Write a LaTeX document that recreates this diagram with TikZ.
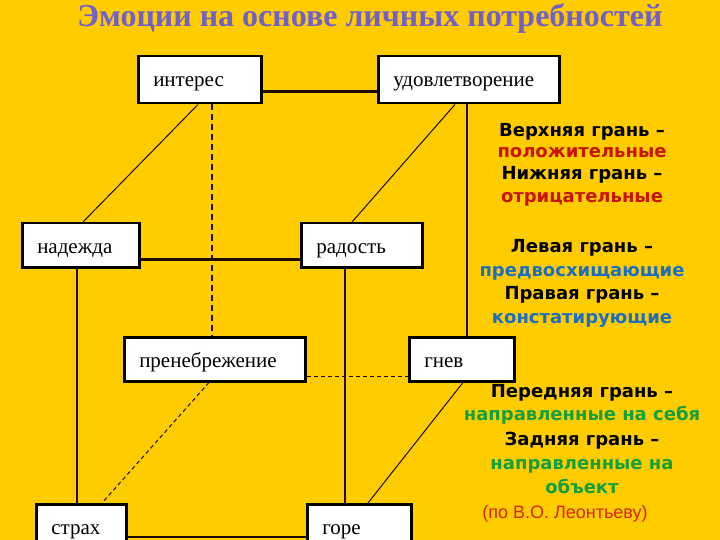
\documentclass[tikz,border=0pt]{standalone}
\usepackage{fontspec}
\setmainfont{Liberation Serif}
\newfontfamily\boldsans{DejaVu Sans}
\newfontfamily\plainsans{Liberation Sans}

\definecolor{bg}{RGB}{255,204,0}
\definecolor{titlecol}{RGB}{112,96,200}
\definecolor{posred}{RGB}{200,20,0}
\definecolor{antblue}{RGB}{30,110,190}
\definecolor{dirgreen}{RGB}{20,160,60}
\definecolor{refred}{RGB}{210,40,0}
\definecolor{edgecol}{RGB}{30,10,0}

\begin{document}
\begin{tikzpicture}[x=1pt,y=-1pt,
  emobox/.style={draw=black, line width=2.5pt, fill=white, anchor=north west,
    inner xsep=15pt, inner ysep=0pt, align=left, text height=30pt,
    font=\fontsize{21}{21}\selectfont},
  solidedge/.style={draw=edgecol, line width=2.5pt},
  thinedge/.style={draw=edgecol, line width=1pt},
  thickdash/.style={draw=edgecol, line width=2.5pt, dash pattern=on 6pt off 4pt},
  thindash/.style={draw=edgecol, line width=1pt, dash pattern=on 4pt off 3pt},
  facehead/.style={anchor=base, font=\boldsans\bfseries\fontsize{18}{18}\selectfont},
  facetext/.style={anchor=base, font=\boldsans\bfseries\fontsize{18}{18}\selectfont}
]
\useasboundingbox (0,0) rectangle (720,540);
\clip (0,0) rectangle (720,540);
\fill[bg] (0,0) rectangle (720,540);

% title
\node[anchor=base, text=titlecol, font=\bfseries\fontsize{32}{32}\selectfont] (title) at (370,27) {Эмоции на основе личных потребностей};

% boxes
\node[emobox, text width=93pt, text depth=17pt] (int) at (137,55) {интерес};
\node[emobox, text width=151pt, text depth=17pt] (udov) at (377,55) {удовлетворение};
\node[emobox, text width=87pt, text depth=14pt] (nad) at (21,222) {надежда};
\node[emobox, text width=91pt, text depth=14pt] (rad) at (300,222) {радость};
\node[emobox, text width=151pt, text depth=14pt] (pren) at (123,336) {пренебрежение};
\node[emobox, text width=75pt, text depth=14pt] (gnev) at (408,336) {гнев};
\node[emobox, text width=60pt, text depth=20pt] (strah) at (35,503) {страх};
\node[emobox, text width=74pt, text depth=20pt] (gore) at (306,503) {горе};

% coordinates on boxes
\coordinate (intv) at ([xshift=75pt]int.south west);
\coordinate (udovv) at ([xshift=90pt]udov.south west);
\coordinate (nadv) at ([xshift=56pt]nad.south west);
\coordinate (radv) at ([xshift=45pt]rad.south west);

% horizontal edges
\draw[solidedge] ([yshift=13pt]int.south east) -- ([yshift=13pt]udov.south west);
\draw[solidedge] ([yshift=9pt]nad.south east) -- ([yshift=9pt]rad.south west);
\draw[solidedge] ([yshift=-34pt]strah.north east) -- ([yshift=-34pt]gore.north west);
\draw[thindash] ([yshift=6pt]pren.south east) -- ([yshift=6pt]gnev.south west);

% vertical edges
\draw[thickdash] (intv) -- (intv |- pren.north);
\draw[solidedge] (udovv) -- (udovv |- gnev.north);
\draw[solidedge] (nadv) -- (nadv |- strah.north);
\draw[solidedge] (radv) -- (radv |- gore.north);

% diagonal edges
\draw[thinedge] ([xshift=61pt]int.south west) -- ([xshift=62pt]nad.north west);
\draw[thinedge] ([xshift=78pt]udov.south west) -- ([xshift=52pt]rad.north west);
\draw[thindash] ([xshift=86pt]pren.south west) -- ([xshift=67pt]strah.north west);
\draw[thinedge] ([xshift=55pt]gnev.south west) -- ([xshift=62pt]gore.north west);

% legend
\node[facehead] (l1) at (582,137) {Верхняя грань –};
\node[facetext, text=posred] (l2) at (582,158) {положительные};
\node[facehead] (l3) at (582,180) {Нижняя грань –};
\node[facetext, text=posred] (l4) at (582,203) {отрицательные};
\node[facehead] (l5) at (582,252) {Левая грань –};
\node[facetext, text=antblue] (l6) at (582,276) {предвосхищающие};
\node[facehead] (l7) at (582,299) {Правая грань –};
\node[facetext, text=antblue] (l8) at (582,323) {констатирующие};
\node[facehead] (l9) at (582,397) {Передняя грань –};
\node[facetext, text=dirgreen] (l10) at (582,420) {направленные на себя};
\node[facehead] (l11) at (582,445) {Задняя грань –};
\node[facetext, text=dirgreen] (l12) at (582,469) {направленные на};
\node[facetext, text=dirgreen] (l13) at (582,493) {объект};
\node[anchor=base, text=refred, font=\plainsans\fontsize{18}{18}\selectfont] (l14) at (565,518) {(по В.О. Леонтьеву)};
\end{tikzpicture}
\end{document}
